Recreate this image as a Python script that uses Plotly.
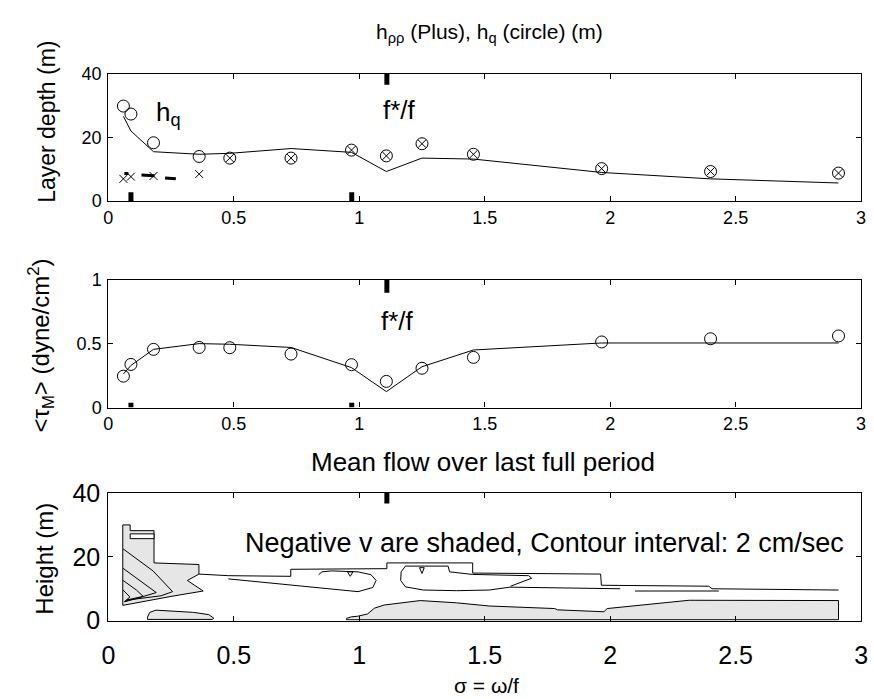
import plotly.graph_objects as go

# ---------------- data ----------------
sigma = [0.06, 0.09, 0.18, 0.362, 0.484, 0.728, 0.969, 1.108, 1.25, 1.455, 1.966, 2.40, 2.91]
h_q = [29.8, 27.3, 18.3, 14.0, 13.5, 13.5, 16.0, 14.2, 18.0, 14.7, 10.2, 9.3, 8.8]
h_rr = [7.0, 7.7, 7.9, 8.5, 13.5, 13.5, 16.0, 14.2, 18.0, 14.7, 10.2, 9.3, 8.8]
h_line = [26.6, 22.0, 15.5, 14.7, 15.0, 16.5, 15.3, 9.3, 13.5, 13.2, 9.0, 7.0, 5.7]
h_rr_dash_x = [0.064, 0.08, None, 0.132, 0.184, None, 0.226, 0.269]
h_rr_dash_y = [8.7, 8.7, None, 8.2, 8.0, None, 7.3, 7.0]

tau_pts = [0.246, 0.338, 0.456, 0.471, 0.469, 0.419, 0.336, 0.205, 0.308, 0.393, 0.514, 0.539, 0.561]
tau_line = [0.263, 0.33, 0.456, 0.501, 0.496, 0.471, 0.313, 0.125, 0.32, 0.451, 0.506, 0.506, 0.506]

mark_low = [0.09, 0.97]   # markers on lower axis
mark_fstar = [1.11]       # f*/f

# contour outlines of mean flow v (sigma, height)
neg1_x = [0.0575, 0.0575, 0.087, 0.087, 0.182, 0.182, 0.361, 0.361, 0.315, 0.378, 0.25, 0.065, 0.0575]
neg1_y = [4.8, 30.0, 30.0, 28.2, 28.2, 18.1, 17.6, 14.6, 12.6, 9.3, 7.6, 4.8, 4.8]
hole1_x = [0.087, 0.182, 0.182, 0.087, 0.087]
hole1_y = [27.2, 27.2, 25.7, 25.7, 27.2]
neg2_x = [0.156, 0.165, 0.19, 0.34, 0.40, 0.42, 0.414, 0.156, 0.156]
neg2_y = [1.1, 2.6, 3.3, 2.6, 1.9, 0.8, 0.4, 0.4, 1.1]
neg3_x = [0.949, 0.968, 0.994, 1.033, 1.06, 1.099, 1.243, 1.387, 1.518, 1.609, 1.779, 1.79,
          1.975, 1.988, 2.315, 2.91, 2.91, 0.949, 0.949]
neg3_y = [0.7, 1.2, 1.4, 2.1, 3.9, 4.9, 6.3, 5.6, 4.6, 4.4, 3.8, 3.4, 2.8, 3.8, 6.4, 6.3, 0.3, 0.3, 0.7]

fan_lines = [
    ([0.0588, 0.178, 0.256, 0.21, 0.08, 0.064], [22.5, 15.6, 9.1, 7.8, 6.5, 6.0]),
    ([0.0588, 0.145, 0.191, 0.106, 0.064], [16.4, 11.6, 8.8, 6.8, 5.9]),
    ([0.0588, 0.112, 0.139, 0.073], [12.6, 9.6, 7.6, 6.5]),
    ([0.0588, 0.086, 0.067], [9.6, 7.4, 6.2]),
]
pos_lines = [
    ([0.361, 0.478, 0.727, 0.727, 1.110, 1.110, 1.452, 1.452, 1.478, 1.962, 1.965, 2.393, 2.406, 2.910],
     [14.6, 14.1, 13.9, 16.1, 16.3, 18.1, 18.1, 14.9, 14.9, 14.6, 11.1, 10.8, 10.0, 9.6]),
    ([0.478, 0.668, 0.864, 0.995, 1.054, 1.067, 1.047, 0.995, 0.890, 0.851, 0.838],
     [13.1, 11.6, 9.9, 9.1, 10.4, 12.6, 14.4, 15.3, 15.6, 15.3, 14.4]),
    ([0.953, 0.975, 0.964, 0.953], [15.3, 15.3, 13.9, 15.3]),
    ([1.184, 1.167, 1.165, 1.184, 1.256, 1.387, 1.518, 1.60, 2.04],
     [17.1, 15.3, 12.6, 10.6, 9.6, 9.4, 9.6, 10.5, 10.0]),
    ([1.184, 1.354, 1.36, 1.45, 1.675, 1.687, 1.603],
     [17.1, 17.1, 15.3, 14.5, 14.1, 13.3, 10.8]),
    ([1.240, 1.259, 1.25, 1.240], [16.6, 16.6, 14.8, 16.6]),
    ([2.099, 2.433], [9.3, 9.3]),
]

xticks = [0, 0.5, 1, 1.5, 2, 2.5, 3]

# ---------------- figure ----------------
fig = go.Figure()
BLK = "black"
SHADE = "#e6e6e6"
FONT = "Liberation Sans, Arial"

# top panel
fig.add_trace(go.Scatter(x=sigma, y=h_line, mode="lines", line=dict(color=BLK, width=1), xaxis="x", yaxis="y"))
fig.add_trace(go.Scatter(x=sigma, y=h_q, mode="markers",
                         marker=dict(symbol="circle-open", size=12, color=BLK, line=dict(width=1)),
                         xaxis="x", yaxis="y"))
fig.add_trace(go.Scatter(x=sigma, y=h_rr, mode="markers",
                         marker=dict(symbol="x-thin-open", size=8, color=BLK, line=dict(width=1, color=BLK)),
                         xaxis="x", yaxis="y"))
fig.add_trace(go.Scatter(x=h_rr_dash_x, y=h_rr_dash_y, mode="lines", line=dict(color=BLK, width=3),
                         xaxis="x", yaxis="y"))

# middle panel
fig.add_trace(go.Scatter(x=sigma, y=tau_line, mode="lines", line=dict(color=BLK, width=1), xaxis="x2", yaxis="y2"))
fig.add_trace(go.Scatter(x=sigma, y=tau_pts, mode="markers",
                         marker=dict(symbol="circle-open", size=12, color=BLK, line=dict(width=1)),
                         xaxis="x2", yaxis="y2"))

# bottom panel: contours
for px_, py_ in [(neg1_x, neg1_y), (neg2_x, neg2_y), (neg3_x, neg3_y)]:
    fig.add_trace(go.Scatter(x=px_, y=py_, mode="lines", fill="toself", fillcolor=SHADE,
                             line=dict(color=BLK, width=1), xaxis="x3", yaxis="y3"))
fig.add_trace(go.Scatter(x=hole1_x, y=hole1_y, mode="lines", fill="toself", fillcolor="white",
                         line=dict(color=BLK, width=1), xaxis="x3", yaxis="y3"))
for lx, ly in fan_lines + pos_lines:
    fig.add_trace(go.Scatter(x=lx, y=ly, mode="lines", line=dict(color=BLK, width=1),
                             xaxis="x3", yaxis="y3"))

# thick frequency markers
panels = [("x", "y", 40, 2.8, 3.5), ("x2", "y2", 1, 0.037, 0.1), ("x3", "y3", 40, 0, 3.3)]
for xa, ya, top, lowlen, toplen in panels:
    if lowlen > 0:
        mx, my = [], []
        for s in mark_low:
            mx += [s, s, None]
            my += [0, lowlen, None]
        fig.add_trace(go.Scatter(x=mx, y=my, mode="lines", line=dict(color=BLK, width=5),
                                 xaxis=xa, yaxis=ya))
    fx, fy = [], []
    for s in mark_fstar:
        fx += [s, s, None]
        fy += [top, top - toplen, None]
    fig.add_trace(go.Scatter(x=fx, y=fy, mode="lines", line=dict(color=BLK, width=5),
                             xaxis=xa, yaxis=ya))

W, H = 874, 699
x0, x1 = 103 / W, 868 / W
def ydom(top_px, bot_px):
    return [1 - bot_px / H, 1 - top_px / H]

axis_common = dict(showline=True, linecolor=BLK, linewidth=1.2, mirror="ticks", ticks="inside",
                   ticklen=5, tickcolor=BLK, showgrid=False, zeroline=False,
                   tickfont=dict(family=FONT, size=18, color=BLK))
big_tick = dict(axis_common, tickfont=dict(family=FONT, size=25, color=BLK))

fig.update_layout(
    width=W, height=H, margin=dict(l=0, r=0, t=0, b=0),
    paper_bgcolor="white", plot_bgcolor="white", showlegend=False,
    font=dict(family=FONT, color=BLK),
    xaxis=dict(axis_common, domain=[x0, x1], range=[0, 3], tickvals=xticks, anchor="y"),
    yaxis=dict(axis_common, domain=ydom(62, 195), range=[0, 40], tickvals=[0, 20, 40], anchor="x",
               ticklabelstandoff=2),
    xaxis2=dict(axis_common, domain=[x0, x1], range=[0, 3], tickvals=xticks, anchor="y2"),
    yaxis2=dict(axis_common, domain=ydom(277, 410), range=[0, 1], tickvals=[0, 0.5, 1], anchor="x2",
                ticklabelstandoff=2),
    xaxis3=dict(big_tick, domain=[x0, x1], range=[0, 3], tickvals=xticks, anchor="y3",
                ticklabelstandoff=12),
    yaxis3=dict(big_tick, domain=ydom(499, 632), range=[0, 40], tickvals=[0, 20, 40], anchor="x3",
                ticklabelstandoff=2),
)

ann = []
def add_paper(text, x, y, size, angle=0):
    ann.append(dict(text=text, x=x / W, y=1 - y / H, xref="paper", yref="paper", showarrow=False,
                    textangle=angle, font=dict(size=size, color=BLK, family=FONT),
                    xanchor="center", yanchor="middle"))

add_paper("h<sub>ρρ</sub> (Plus), h<sub>q</sub> (circle) (m)", 490, 20, 21)
add_paper("Layer depth (m)", 40, 112, 23, -90)
add_paper("&lt;τ<sub>M</sub>&gt; (dyne/cm<sup>2</sup>)", 35, 345, 24, -90)
add_paper("Mean flow over last full period", 484, 467, 26)
add_paper("Height (m)", 38, 567, 24, -90)
ann.append(dict(text="σ = ω/f", x=487 / W, y=0, xref="paper", yref="paper", showarrow=False,
                xanchor="center", yanchor="bottom", yshift=-14,
                font=dict(size=21, color=BLK, family=FONT)))

ann.append(dict(text="h<sub>q</sub>", x=0.18, y=27.5, xref="x", yref="y", showarrow=False,
                xanchor="left", yanchor="middle", font=dict(size=26, color=BLK, family=FONT)))
ann.append(dict(text="f*/f", x=1.16, y=28.5, xref="x", yref="y", showarrow=False,
                xanchor="center", yanchor="middle", font=dict(size=26, color=BLK, family=FONT)))
ann.append(dict(text="f*/f", x=1.153, y=0.677, xref="x2", yref="y2", showarrow=False,
                xanchor="center", yanchor="middle", font=dict(size=26, color=BLK, family=FONT)))
ann.append(dict(text="Negative v are shaded, Contour interval: 2 cm/sec", x=1.74, y=24.2,
                xref="x3", yref="y3", showarrow=False, xanchor="center", yanchor="middle",
                font=dict(size=27, color=BLK, family=FONT)))
fig.update_layout(annotations=ann)

fig.write_html("out.html")
